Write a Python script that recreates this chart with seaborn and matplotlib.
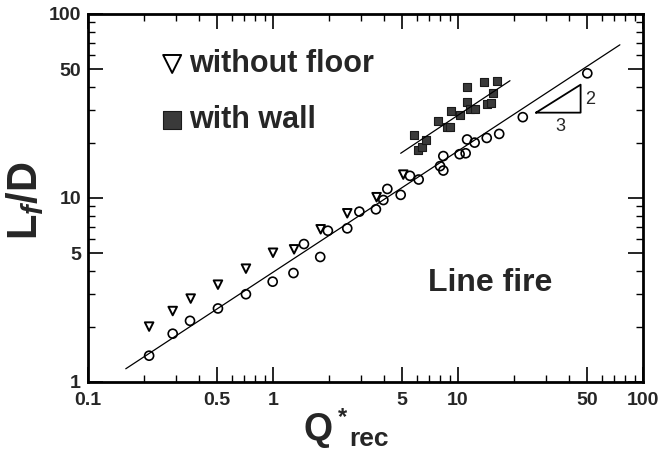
import matplotlib
matplotlib.use("Agg")
import matplotlib.pyplot as plt
import matplotlib.ticker as mticker
import numpy as np
import seaborn as sns

# ---- data ----
circle_x = [0.214, 0.287, 0.356, 0.504, 0.714, 0.996, 1.29, 1.47, 1.80, 1.98,
            2.52, 2.93, 3.6, 3.95, 4.15, 4.9, 5.5, 6.13, 8.0, 8.33,
            8.33, 10.2, 11.0, 11.2, 12.3, 14.3, 16.7, 22.4, 50.0]
circle_y = [1.39, 1.83, 2.15, 2.51, 3.0, 3.51, 3.91, 5.62, 4.78, 6.64,
            6.84, 8.43, 8.68, 9.75, 11.2, 10.4, 13.2, 12.6, 14.9, 16.9,
            14.1, 17.3, 17.5, 20.8, 20.0, 21.2, 22.3, 27.5, 47.6]

floor_x = [0.214, 0.287, 0.359, 0.504, 0.714, 1.0, 1.30, 1.81, 2.52, 3.63, 5.06]
floor_y = [2.0, 2.43, 2.84, 3.38, 4.13, 5.04, 5.26, 6.76, 8.26, 10.1, 13.4]

wall_x = [5.78, 6.1, 6.4, 6.7, 7.8, 8.7, 9.0, 9.14, 10.2, 11.2,
          11.2, 11.6, 12.4, 13.8, 14.3, 15.0, 15.5, 16.3]
wall_y = [22.1, 18.3, 18.9, 20.7, 26.3, 24.4, 24.2, 29.8, 28.3, 40.0,
          33.1, 30.5, 30.5, 42.5, 32.3, 32.7, 37.1, 43.1]

fit_x = [0.16, 75.0]
fit_y = [1.18, 68.0]
wall_fit_x = [4.9, 19.1]
wall_fit_y = [17.5, 43.4]

slope_x = [26.4, 46.0, 46.0, 26.4]
slope_y = [29.1, 29.1, 41.3, 29.1]

x_ticks = [0.1, 0.5, 1, 5, 10, 50, 100]
x_ticklabels = ["0.1", "0.5", "1", "5", "10", "50", "100"]
y_ticks = [1, 5, 10, 50, 100]
y_ticklabels = ["1", "5", "10", "50", "100"]

# ---- style ----
sns.set_theme(style="ticks")
plt.rcParams['font.family'] = ['Liberation Sans', 'DejaVu Sans']
plt.rcParams['mathtext.fontset'] = 'custom'
plt.rcParams['mathtext.rm'] = 'Liberation Sans'
plt.rcParams['mathtext.bf'] = 'Liberation Sans:bold'
plt.rcParams['mathtext.it'] = 'Liberation Sans:italic:bold'

W, H = 662, 453
fig = plt.figure(figsize=(W / 100, H / 100), dpi=100)
ax = fig.add_axes([88 / W, 1 - 382 / H, 555 / W, 368 / H])
ax.set_xscale('log')
ax.set_yscale('log')

sns.lineplot(x=fit_x, y=fit_y, ax=ax, color='black', lw=0.9)
sns.lineplot(x=wall_fit_x, y=wall_fit_y, ax=ax, color='black', lw=0.9)
sns.lineplot(x=slope_x, y=slope_y, ax=ax, color='black', lw=1.3,
             sort=False, estimator=None)

sns.scatterplot(x=circle_x, y=circle_y, ax=ax, marker='o', s=42,
                facecolors='none', edgecolor='black', linewidth=1.2)
sns.scatterplot(x=floor_x, y=floor_y, ax=ax, marker='v', s=38,
                facecolors='none', edgecolor='black', linewidth=1.4,
                label='without floor')
sns.scatterplot(x=wall_x, y=wall_y, ax=ax, marker='s', s=38,
                color='#3a3a3a', edgecolor='#1a1a1a', linewidth=0.8,
                label='with wall')

for coll in ax.collections[:2]:
    coll.set_facecolor('none')
    coll.set_edgecolor('black')

ax.set_xlim(0.1, 100)
ax.set_ylim(1, 100)

ax.xaxis.set_major_locator(mticker.FixedLocator(x_ticks))
ax.xaxis.set_major_formatter(mticker.FixedFormatter(x_ticklabels))
ax.yaxis.set_major_locator(mticker.FixedLocator(y_ticks))
ax.yaxis.set_major_formatter(mticker.FixedFormatter(y_ticklabels))
ax.xaxis.set_minor_locator(mticker.LogLocator(base=10, subs=(2, 3, 4, 6, 7, 8, 9)))
ax.yaxis.set_minor_locator(mticker.LogLocator(base=10, subs=(2, 3, 4, 6, 7, 8, 9)))
ax.xaxis.set_minor_formatter(mticker.NullFormatter())
ax.yaxis.set_minor_formatter(mticker.NullFormatter())

ax.tick_params(which='both', direction='in', top=True, right=True, color='black')
ax.tick_params(which='major', length=11, width=1.2)
ax.tick_params(which='minor', length=5, width=1.0)
ax.tick_params(axis='x', which='major', pad=7, labelsize=14)
ax.tick_params(axis='y', which='major', pad=5, labelsize=14)
for lab in ax.get_xticklabels() + ax.get_yticklabels():
    lab.set_fontweight('bold')

for sp in ax.spines.values():
    sp.set_linewidth(2.0)
    sp.set_color('black')

# axis labels
ax.set_xlabel("")
fig.text(318 / W, 1 - 440 / H, "Q", fontsize=27, fontweight='bold',
         ha='center', va='baseline')
fig.text(342 / W, 1 - 424 / H, "*", fontsize=17, fontweight='bold',
         ha='center', va='baseline')
fig.text(349 / W, 1 - 446 / H, "rec", fontsize=19, fontweight='bold',
         ha='left', va='baseline')

ax.set_ylabel(r"$\mathbf{L}_{\mathit{f}}\mathbf{/D}$", fontsize=30)
ax.yaxis.set_label_coords((37 - 88) / 555, (382 - 201) / 368)
ax.yaxis.label.set_va('baseline')

# legend
leg = ax.legend(loc='upper left', bbox_to_anchor=((163 - 88) / 555, (382 - 49) / 368),
                frameon=False, markerscale=2.1, handlelength=0.6,
                handletextpad=0.25, borderpad=0, borderaxespad=0, labelspacing=0.85,
                prop={'weight': 'bold', 'size': 22})

# annotations
ax.text((490 - 88) / 555, (382 - 283) / 368, "Line fire", transform=ax.transAxes,
        fontsize=23, fontweight='bold', ha='center', va='center')
ax.text(52, 34.1, "2", fontsize=13, ha='center', va='center')
ax.text(35.6, 24.6, "3", fontsize=13, ha='center', va='center')

fig.savefig("out.png", dpi=100)
